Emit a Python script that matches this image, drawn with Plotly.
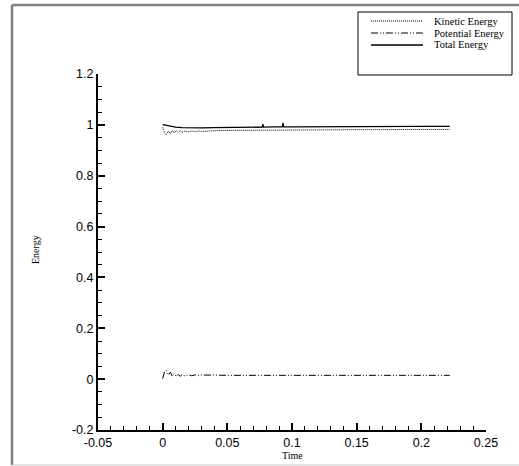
import plotly.graph_objects as go

# Energy histories of the simulation
t_kinetic = [0, 0.0015, 0.003, 0.0045, 0.006, 0.0075, 0.009, 0.0105, 0.012, 0.0135,
             0.015, 0.0175, 0.02, 0.0225, 0.025, 0.0275, 0.03, 0.035, 0.04, 0.05,
             0.07, 0.1, 0.15, 0.222]
e_kinetic = [0.990, 0.968, 0.962, 0.976, 0.965, 0.978, 0.968, 0.978, 0.970, 0.977,
             0.971, 0.976, 0.972, 0.976, 0.973, 0.976, 0.974, 0.976, 0.977, 0.978,
             0.979, 0.980, 0.981, 0.982]

t_potential = [0, 0.0015, 0.003, 0.0045, 0.006, 0.0075, 0.009, 0.0105, 0.012, 0.0135,
               0.015, 0.0175, 0.02, 0.0225, 0.025, 0.0275, 0.03, 0.035, 0.04, 0.05,
               0.07, 0.1, 0.15, 0.222]
e_potential = [0.002, 0.030, 0.033, 0.016, 0.027, 0.012, 0.022, 0.010, 0.019, 0.011,
               0.018, 0.012, 0.017, 0.013, 0.017, 0.014, 0.016, 0.015, 0.016, 0.015,
               0.015, 0.015, 0.015, 0.015]

t_total = [0, 0.003, 0.006, 0.01, 0.015, 0.02, 0.03, 0.04, 0.05, 0.06, 0.07,
           0.077, 0.0775, 0.078, 0.085, 0.0925, 0.093, 0.0935, 0.1, 0.12, 0.14,
           0.16, 0.18, 0.2, 0.222]
e_total = [1.001, 0.998, 0.994, 0.991, 0.989, 0.988, 0.988, 0.989, 0.990, 0.990, 0.991,
           0.991, 1.003, 0.991, 0.992, 0.992, 1.008, 0.992, 0.992, 0.993, 0.993,
           0.993, 0.994, 0.994, 0.994]

x_ticks = [-0.05, 0, 0.05, 0.1, 0.15, 0.2, 0.25]
x_labels = ["-0.05", "0", "0.05", "0.1", "0.15", "0.2", "0.25"]
y_ticks = [-0.2, 0, 0.2, 0.4, 0.6, 0.8, 1.0, 1.2]
y_labels = ["-0.2", "0", "0.2", "0.4", "0.6", "0.8", "1", "1.2"]

series_names = ["Kinetic Energy", "Potential Energy", "Total Energy"]
dash_kinetic = "1px,1px"
dash_potential = "7px,2px,1px,2px,1px,2px"

W, H = 519, 466
L, R, T, B = 98, 33, 74, 36
pw, ph = W - L - R, H - T - B


def px(x):
    return (x - L) / pw


def py(y):
    return (H - B - y) / ph


fig = go.Figure()
fig.add_trace(go.Scatter(x=t_kinetic, y=e_kinetic, mode="lines", name=series_names[0],
                         line=dict(color="black", width=1, dash=dash_kinetic)))
fig.add_trace(go.Scatter(x=t_potential, y=e_potential, mode="lines", name=series_names[1],
                         line=dict(color="black", width=1, dash=dash_potential)))
fig.add_trace(go.Scatter(x=t_total, y=e_total, mode="lines", name=series_names[2],
                         line=dict(color="black", width=1.3)))

serif = "Liberation Serif, Times New Roman, serif"
sans = "Liberation Sans, Arial, sans-serif"

shapes = [
    # outer frame
    dict(type="line", xref="paper", yref="paper", x0=px(12), x1=px(12), y0=py(5), y1=py(465),
         line=dict(color="#808080", width=2.5)),
    dict(type="line", xref="paper", yref="paper", x0=px(12), x1=px(519), y0=py(5), y1=py(5),
         line=dict(color="#808080", width=2.5)),
    dict(type="line", xref="paper", yref="paper", x0=px(12), x1=px(519), y0=py(465), y1=py(465),
         line=dict(color="#c8c8c8", width=1)),
    # legend box
    dict(type="rect", xref="paper", yref="paper", x0=px(358), x1=px(512), y0=py(75), y1=py(12),
         line=dict(color="black", width=1), fillcolor="white"),
]
annotations = []
legend_rows = [21, 33, 45]
legend_dashes = [dash_kinetic, dash_potential, "solid"]
for name, yy, dsh in zip(series_names, legend_rows, legend_dashes):
    shapes.append(dict(type="line", xref="paper", yref="paper", x0=px(371), x1=px(423),
                       y0=py(yy), y1=py(yy),
                       line=dict(color="black", width=1.3 if dsh == "solid" else 1, dash=dsh)))
    annotations.append(dict(xref="paper", yref="paper", x=px(432), y=py(yy), text=name,
                            showarrow=False, xanchor="left", yanchor="middle",
                            font=dict(family=serif, size=10.5, color="black")))

annotations.append(dict(xref="paper", yref="paper", x=0.5, y=py(455), text="Time",
                        showarrow=False, xanchor="center", yanchor="middle",
                        font=dict(family=serif, size=10, color="black")))
annotations.append(dict(xref="paper", yref="paper", x=px(35), y=py(250), text="Energy",
                        showarrow=False, textangle=-90, xanchor="center", yanchor="middle",
                        font=dict(family=serif, size=10, color="black")))

fig.update_layout(
    width=W, height=H,
    margin=dict(l=L, r=R, t=T, b=B),
    paper_bgcolor="white", plot_bgcolor="white",
    showlegend=False,
    shapes=shapes,
    annotations=annotations,
    font=dict(family=sans, size=12, color="black"),
)
fig.update_xaxes(
    range=[-0.05, 0.25], tickmode="array", tickvals=x_ticks, ticktext=x_labels,
    showgrid=False, zeroline=False, showline=True, linecolor="black", linewidth=2,
    ticks="inside", ticklen=7, tickwidth=1.5, tickcolor="black",
    minor=dict(dtick=0.01, tick0=0, ticks="inside", ticklen=4, tickwidth=1, tickcolor="black",
               showgrid=False),
    tickfont=dict(family=sans, size=12.5, color="black"),
)
fig.update_yaxes(
    range=[-0.2, 1.2], tickmode="array", tickvals=y_ticks, ticktext=y_labels,
    showgrid=False, zeroline=False, showline=True, linecolor="black", linewidth=2,
    ticks="inside", ticklen=7, tickwidth=1.5, tickcolor="black",
    minor=dict(dtick=0.05, tick0=0, ticks="inside", ticklen=4, tickwidth=1, tickcolor="black",
               showgrid=False),
    tickfont=dict(family=sans, size=12.5, color="black"),
)

fig.write_html("out.html")
